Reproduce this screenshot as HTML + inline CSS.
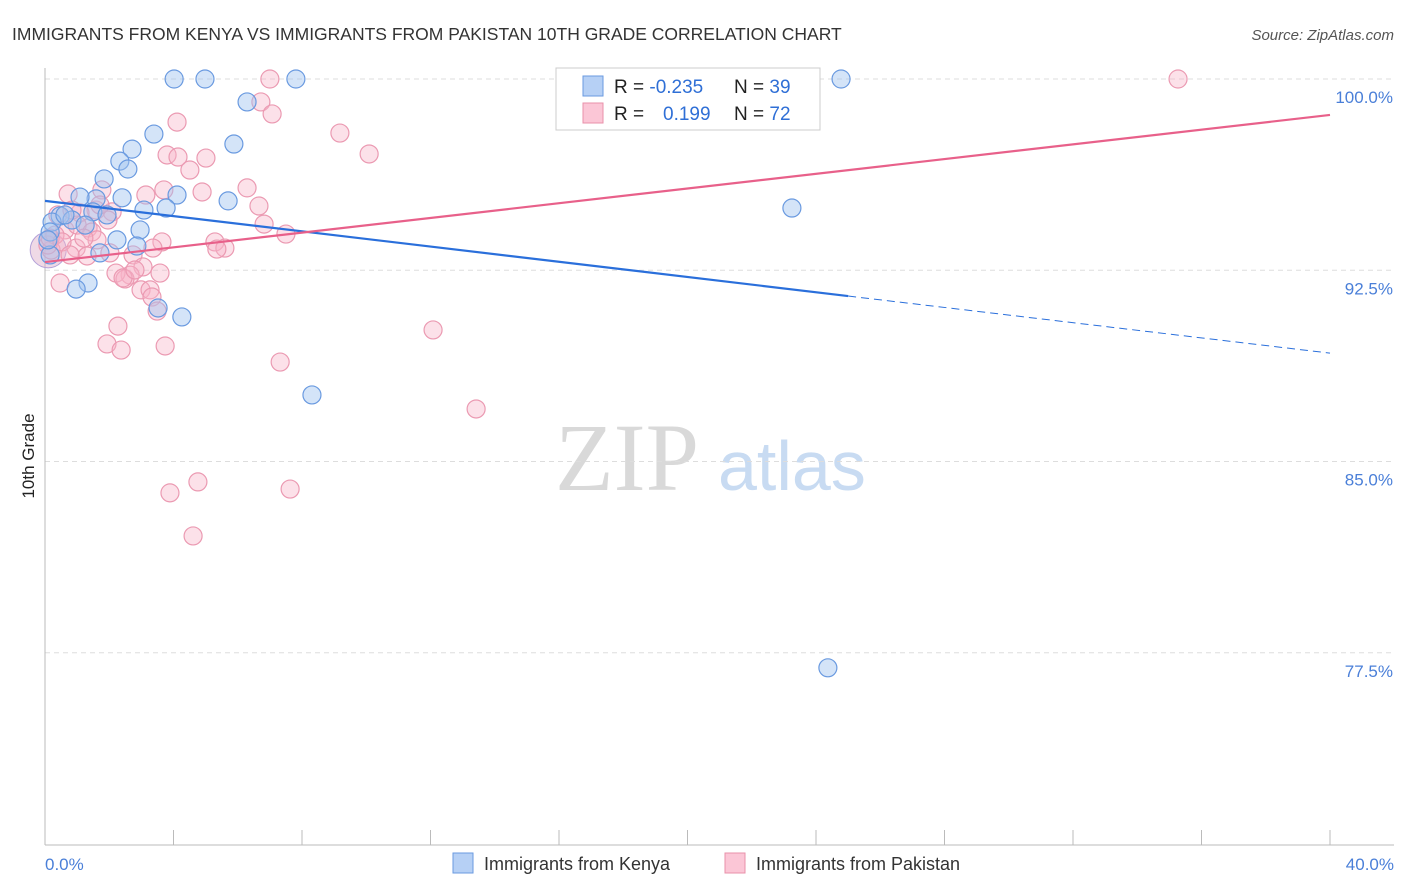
<!DOCTYPE html>
<html><head><meta charset="utf-8"><style>
body{margin:0;background:#fff;font-family:"Liberation Sans",sans-serif;}
svg{display:block}
</style></head><body>
<svg id="c" width="1406" height="892" xmlns="http://www.w3.org/2000/svg">
<text x="12" y="40" font-size="17.5" fill="#333">IMMIGRANTS FROM KENYA VS IMMIGRANTS FROM PAKISTAN 10TH GRADE CORRELATION CHART</text>
<text x="1394" y="40" font-size="15" fill="#555" font-style="italic" text-anchor="end">Source: ZipAtlas.com</text>
<g>
<text x="555" y="490" font-size="96" font-family="Liberation Serif,serif" fill="#d9d9d9">ZIP</text>
<text x="718" y="490" font-size="70" fill="#c8dbf2">atlas</text>
</g>
<g id="grid"></g>
<g id="axes"></g>
<g id="marks"></g>
<g id="legend">
<rect x="556" y="68" width="264" height="62" fill="#fff" stroke="#ccc"/>
<rect x="583" y="76" width="20" height="20" fill="#b6d0f5" stroke="#6a9ae0"/>
<rect x="583" y="103" width="20" height="20" fill="#fbc6d6" stroke="#e890aa"/>
<text x="614" y="93" font-size="19" fill="#222">R = <tspan fill="#2f6fd6">-0.235</tspan></text>
<text x="734" y="93" font-size="19" fill="#222">N = <tspan fill="#2f6fd6">39</tspan></text>
<text x="614" y="120" font-size="19" fill="#222">R = </text>
<text x="663" y="120" font-size="19" fill="#2f6fd6">0.199</text>
<text x="734" y="120" font-size="19" fill="#222">N = <tspan fill="#2f6fd6">72</tspan></text>
</g>
<g>
<rect x="453" y="853" width="20" height="20" fill="#b6d0f5" stroke="#6a9ae0"/>
<text x="484" y="870" font-size="18" fill="#333">Immigrants from Kenya</text>
<rect x="725" y="853" width="20" height="20" fill="#fbc6d6" stroke="#e890aa"/>
<text x="756" y="870" font-size="18" fill="#333">Immigrants from Pakistan</text>
</g>
<text transform="translate(34,456) rotate(-90)" font-size="17" fill="#222" text-anchor="middle">10th Grade</text>
</svg>
<script>
const yTicks=[100,92.5,85,77.5];
const yTickLabels=["100.0%","92.5%","85.0%","77.5%"];
const xTickLabels=["0.0%","40.0%"];
const kenyaX=[4.02,4.98,7.81,24.78,6.29,3.39,5.88,2.71,2.33,2.58,1.84,4.11,1.59,2.40,1.09,5.70,3.77,3.08,1.49,1.93,0.47,0.84,0.22,2.96,0.16,2.24,2.86,1.71,0.16,1.34,0.97,3.52,4.26,8.31,23.25,24.37,0.09,0.62,1.25];
const kenyaY=[100,100,100,100,99.10,97.84,97.45,97.25,96.78,96.47,96.08,95.45,95.30,95.34,95.37,95.22,94.94,94.86,94.79,94.67,94.63,94.47,94.39,94.08,94.00,93.69,93.45,93.18,93.10,92.00,91.76,91.02,90.67,87.61,94.94,76.91,93.69,94.67,94.27];
const pakX=[16.37,7.00,35.27,6.72,7.07,4.11,9.18,10.09,3.80,4.14,5.01,4.51,1.77,6.29,3.70,4.89,3.14,0.72,6.66,2.09,1.59,1.09,0.40,1.96,1.34,0.62,1.00,1.46,6.82,7.50,1.62,3.64,5.29,5.60,5.35,3.36,0.97,0.19,2.02,2.74,1.31,3.05,3.58,2.65,2.21,2.49,2.43,0.47,2.99,3.27,3.33,3.49,2.27,12.08,1.93,3.74,2.37,7.32,13.42,4.76,3.89,7.63,4.61,0.09,0.31,0.84,1.71,2.80,0.16,0.53,1.21,0.78];
const pakY=[100,100,100,99.10,98.63,98.31,97.88,97.06,97.02,96.94,96.90,96.43,95.65,95.73,95.65,95.57,95.45,95.49,95.02,94.79,94.86,94.75,94.67,94.47,94.16,94.08,94.27,94.00,94.31,93.92,93.69,93.61,93.61,93.37,93.33,93.37,93.37,93.29,93.18,93.10,93.06,92.63,92.39,92.31,92.39,92.16,92.20,92.00,91.73,91.73,91.45,90.90,90.31,90.16,89.61,89.53,89.37,88.90,87.06,84.20,83.77,83.92,82.08,93.49,93.88,94.86,95.06,92.51,93.76,93.61,93.76,93.10];
const kenyaTrend=[95.22,89.25]; // at x=0 and x=40
const kenyaSolidEnd=25;
const pakTrend=[92.82,98.59];
const NS="http://www.w3.org/2000/svg";
const X=v=>45+v/40*1285;
const Y=v=>79+(100-v)*25.5;
function mk(tag,attrs,parent){const e=document.createElementNS(NS,tag);for(const k in attrs)e.setAttribute(k,attrs[k]);document.getElementById(parent).appendChild(e);return e;}
yTicks.forEach((t,i)=>{
 const l=mk('line',{x1:45,x2:1394,y1:Y(t),y2:Y(t),stroke:'#ddd','stroke-dasharray':'5,4'},'grid');
 
 
 const tx=mk('text',{x:1393,y:Y(t)+24,'font-size':17,fill:'#4a7fd8','text-anchor':'end'},'grid');
 tx.textContent=yTickLabels[i];
 
 
});
const ax=mk('line',{x1:45,x2:1394,y1:845,y2:845,stroke:'#bbb'},'axes');


const ay=mk('line',{x1:45,x2:45,y1:68,y2:845,stroke:'#bbb'},'axes');


for(let i=1;i<=10;i++){
 const t=mk('line',{x1:X(i*4),x2:X(i*4),y1:830,y2:845,stroke:'#bbb'},'axes');
 
 
}
[[0,'start',45],[40,'end',1394]].forEach((d,i)=>{
 const t=mk('text',{x:d[2],y:870,'font-size':17,fill:'#4a7fd8','text-anchor':d[1]},'axes');
 t.textContent=xTickLabels[i];
 
 
});
const big1=mk('circle',{cx:X(0.1),cy:Y(93.3),r:18,fill:'rgba(220,170,200,0.45)',stroke:'#b3a0d8'},'marks');


pakX.forEach((v,i)=>{
 const c=mk('circle',{cx:X(v),cy:Y(pakY[i]),r:9,fill:'rgba(248,180,200,0.4)',stroke:'#eb9ab2','stroke-width':1.2},'marks');
 
 
});
kenyaX.forEach((v,i)=>{
 const c=mk('circle',{cx:X(v),cy:Y(kenyaY[i]),r:9,fill:'rgba(160,196,240,0.45)',stroke:'#6a9ae0','stroke-width':1.2},'marks');
 
 
});
const ky=x=>kenyaTrend[0]+(kenyaTrend[1]-kenyaTrend[0])*x/40;
const py=x=>pakTrend[0]+(pakTrend[1]-pakTrend[0])*x/40;
const k1=mk('line',{x1:X(0),y1:Y(ky(0)),x2:X(kenyaSolidEnd),y2:Y(ky(kenyaSolidEnd)),stroke:'#2a6fdb','stroke-width':2.2},'marks');


const k2=mk('line',{x1:X(kenyaSolidEnd),y1:Y(ky(kenyaSolidEnd)),x2:X(40),y2:Y(ky(40)),stroke:'#2a6fdb','stroke-width':1,'stroke-dasharray':'8,5'},'marks');


const p1=mk('line',{x1:X(0),y1:Y(py(0)),x2:X(40),y2:Y(py(40)),stroke:'#e8608a','stroke-width':2.2},'marks');


</script>
</body></html>
